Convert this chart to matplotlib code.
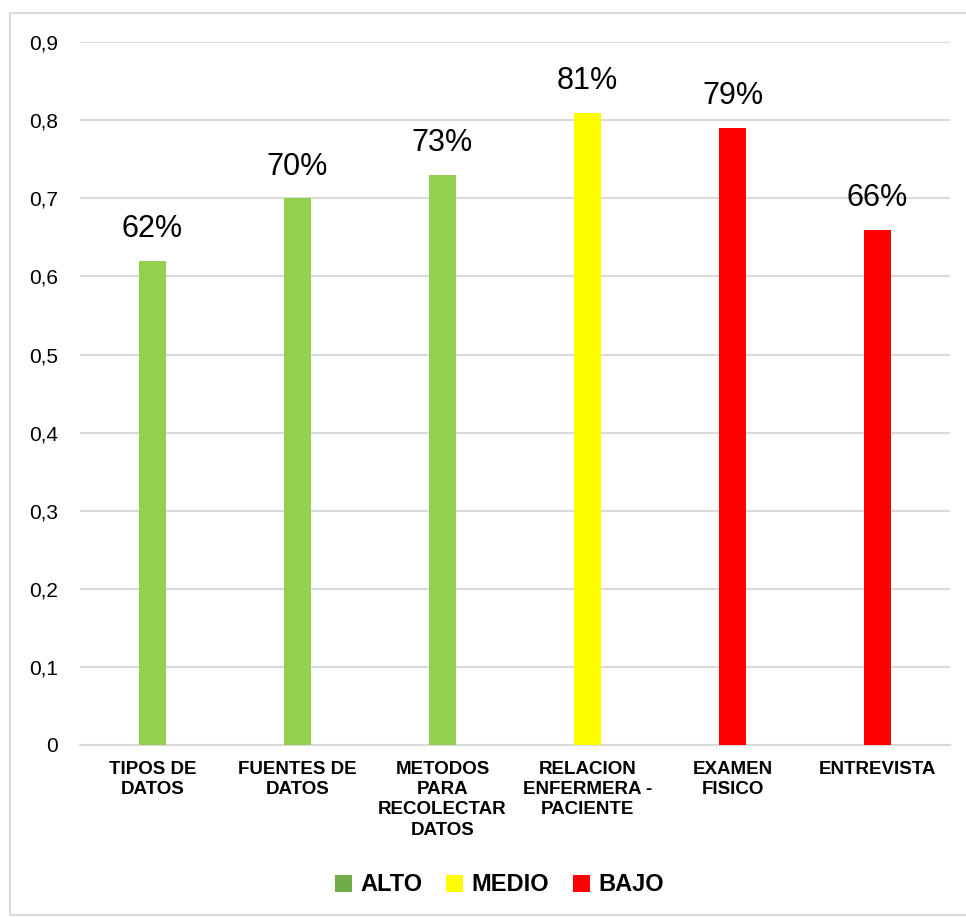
import matplotlib

matplotlib.use("Agg")

import matplotlib.pyplot as plt
from matplotlib.patches import Patch, Rectangle
from matplotlib.ticker import FuncFormatter

plt.rcParams["font.family"] = ["Liberation Sans", "DejaVu Sans"]

categories = [
    "TIPOS DE\nDATOS",
    "FUENTES DE\nDATOS",
    "METODOS\nPARA\nRECOLECTAR\nDATOS",
    "RELACION\nENFERMERA -\nPACIENTE",
    "EXAMEN\nFISICO",
    "ENTREVISTA",
]
values = [0.62, 0.70, 0.73, 0.81, 0.79, 0.66]
levels = ["ALTO", "ALTO", "ALTO", "MEDIO", "BAJO", "BAJO"]

bar_colors = {"ALTO": "#92D050", "MEDIO": "#FFFF00", "BAJO": "#FF0000"}
legend_colors = {"ALTO": "#70AD47", "MEDIO": "#FFFF00", "BAJO": "#FF0000"}
yticks = [0, 0.1, 0.2, 0.3, 0.4, 0.5, 0.6, 0.7, 0.8, 0.9]


def comma_fmt(v, _pos):
    if abs(v) < 1e-9:
        return "0"
    return f"{v:.1f}".replace(".", ",")


def main() -> None:
    fig = plt.figure(figsize=(9.66, 9.18), dpi=100)
    ax = fig.add_axes([0.0828, 0.1885, 0.9006, 0.7655])

    # chart-area frame
    fig.patches.append(
        Rectangle((10 / 966, 3 / 918), 1.0, 902 / 918, transform=fig.transFigure,
                  fill=False, edgecolor="#D9D9D9", linewidth=1.5)
    )

    x = list(range(len(categories)))
    colors = [bar_colors[lv] for lv in levels]
    bars = ax.bar(x, values, width=0.18, color=colors, zorder=3)

    for rect, v in zip(bars, values):
        ax.annotate(f"{round(v * 100):d}%",
                    xy=(rect.get_x() + rect.get_width() / 2, v),
                    xytext=(0, 12), textcoords="offset points",
                    ha="center", va="bottom", fontsize=22, color="#000000")

    ax.set_xlim(-0.5, len(categories) - 0.5)
    ax.set_ylim(0, 0.9)
    ax.set_yticks(yticks)
    ax.yaxis.set_major_formatter(FuncFormatter(comma_fmt))
    ax.set_xticks(x)
    ax.set_xticklabels(categories, fontsize=13.5, fontweight="bold", linespacing=1.25)
    ax.tick_params(axis="y", length=0, pad=16, labelsize=15)
    ax.tick_params(axis="x", length=0, pad=11.5)

    ax.grid(axis="y", color="#D9D9D9", linewidth=1.5, zorder=0)
    for side in ("top", "right", "left"):
        ax.spines[side].set_visible(False)
    ax.spines["bottom"].set_color("#D9D9D9")
    ax.spines["bottom"].set_linewidth(1.5)

    handles = [Patch(facecolor=legend_colors[k], edgecolor="none", label=k)
               for k in ("ALTO", "MEDIO", "BAJO")]
    fig.legend(handles=handles, loc="center", bbox_to_anchor=(0.517, 0.036),
               ncol=3, frameon=False, prop={"size": 17, "weight": "bold"},
               handlelength=0.72, handleheight=0.72, handletextpad=0.35,
               columnspacing=1.0)

    fig.savefig("out.png", dpi=100)
    plt.close(fig)


if __name__ == "__main__":
    main()
